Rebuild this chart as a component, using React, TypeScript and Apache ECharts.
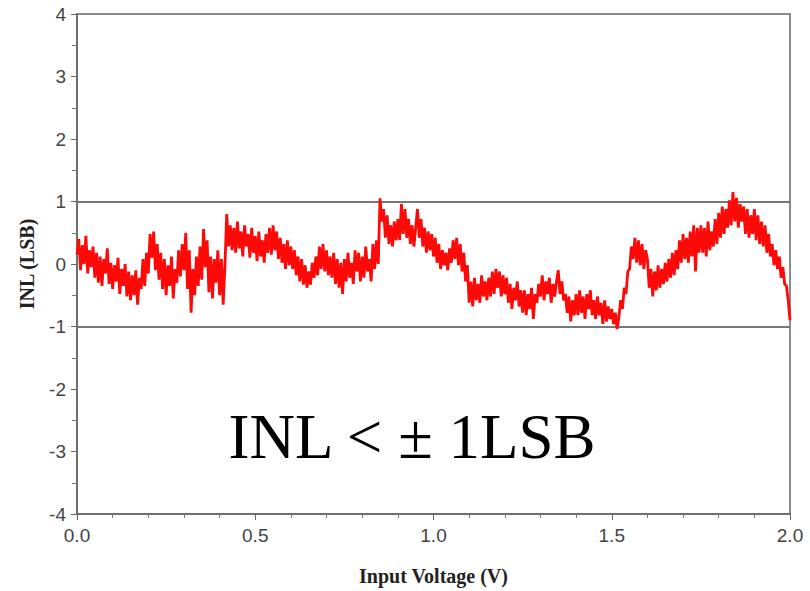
import React, { useEffect, useRef } from "react";
import * as echarts from "echarts";

// Sample spacing of the measured INL trace (V per code sample)
const SAMPLE_STEP = 0.005;

// INL (LSB), 10 samples per 0.05 V
const inlSeg1 = [
  0.15, 0.4, -0.1, 0.3, 0.0, 0.45, -0.15, 0.22, -0.05, 0.28,
  -0.22, 0.18, -0.3, 0.12, -0.35, 0.08, -0.15, 0.25, -0.32, 0.02,
  -0.4, -0.02, -0.28, 0.1, -0.48, -0.08, -0.35, 0.0, -0.52, -0.12,
  -0.58, -0.18, -0.5, -0.1, -0.65, -0.22, -0.4, 0.08, -0.35, 0.18,
  -0.15, 0.48, 0.1, 0.52, -0.1, 0.32, -0.25, 0.18, -0.4, 0.08,
  -0.5, -0.02, -0.35, 0.12, -0.55, -0.08, -0.3, 0.22, -0.2, 0.32,
  -0.1, 0.5, -0.4, 0.22, -0.78, -0.08, -0.5, 0.12, -0.35, 0.28,
  -0.25, 0.56, -0.05, 0.38, -0.45, 0.12, -0.55, 0.08, -0.3, 0.22,
  -0.5, 0.08, -0.65, -0.02,
];
const inlSeg2 = [
  0.8, 0.28, 0.62, 0.22, 0.58, 0.18,
  0.68, 0.25, 0.52, 0.12, 0.62, 0.28, 0.48, 0.1, 0.58, 0.18,
  0.45, 0.05, 0.52, 0.12, 0.38, 0.02, 0.48, 0.18, 0.58, 0.15,
  0.62, 0.22, 0.52, 0.08, 0.42, 0.02, 0.32, -0.08, 0.38, -0.02,
  0.28, -0.08, 0.22, -0.18, 0.12, -0.28, 0.08, -0.33, -0.02, -0.38,
  -0.12, -0.33, 0.02, -0.22, 0.12, -0.18, 0.28, -0.08, 0.32, -0.12,
  0.22, -0.18, 0.12, -0.22, 0.18, -0.32, 0.08, -0.38, 0.02, -0.48,
  0.08, -0.28, 0.18, -0.22, 0.02, -0.32, 0.22, -0.12, 0.18, -0.28,
  0.12, -0.22, 0.28, -0.12, 0.08, -0.28, 0.32, -0.08, 0.38, 0.0,
];
const inlSeg3 = [
  1.05, 0.68, 0.88, 0.42, 0.78, 0.32, 0.62, 0.28, 0.68, 0.38,
  0.72, 0.38, 0.96, 0.48, 0.88, 0.42, 0.72, 0.32, 0.62, 0.28,
  0.58, 0.88, 0.42, 0.72, 0.28, 0.58, 0.18, 0.52, 0.22, 0.48,
  0.12, 0.42, 0.02, 0.32, -0.08, 0.22, -0.02, 0.18, -0.1, 0.25,
  0.02, 0.38, 0.08, 0.42, -0.02, 0.32, -0.12, 0.18, -0.28, -0.02,
  -0.62, -0.28, -0.68, -0.22, -0.58, -0.32, -0.62, -0.18, -0.52, -0.28,
  -0.58, -0.22, -0.52, -0.12, -0.48, -0.08, -0.38, -0.12, -0.52, -0.18,
  -0.48, -0.22, -0.62, -0.32, -0.72, -0.38, -0.58, -0.28, -0.68, -0.42,
  -0.78, -0.42, -0.82, -0.48, -0.72, -0.38, -0.88, -0.48, -0.62, -0.32,
  -0.52, -0.18, -0.58, -0.28, -0.48, -0.22, -0.62, -0.32, -0.52, -0.28,
  -0.1, -0.48, -0.28, -0.58, -0.48, -0.78, -0.52, -0.92, -0.58, -0.82,
  -0.48, -0.82, -0.42, -0.78, -0.52, -0.88, -0.48, -0.72, -0.42, -0.82,
  -0.58, -0.88, -0.52, -0.82, -0.62, -0.96, -0.58, -0.92, -0.68, -0.88,
  -0.72, -0.96, -0.78, -1.04, -0.85,
];
const inlSeg4 = [
  -0.58, -0.72, -0.38, -0.48, -0.12,
  -0.08, 0.28, 0.08, 0.42, 0.02, 0.38, -0.02, 0.32, -0.08, 0.22,
  0.08, -0.38, -0.08, -0.52, -0.12, -0.42, -0.02, -0.38, -0.08, -0.32,
  0.02, -0.28, 0.08, -0.22, 0.18, -0.18, 0.22, -0.08, 0.38, 0.02,
  0.48, 0.08, 0.42, 0.02, 0.52, 0.12, 0.62, -0.12, 0.58, 0.18,
  0.62, 0.18, 0.58, 0.12, 0.68, 0.22, 0.52, 0.28, 0.72, 0.32,
  0.82, 0.42, 0.92, 0.48, 0.88, 0.58, 1.02, 0.62, 1.15, 0.68,
  1.06, 0.58, 0.96, 0.68, 0.92, 0.48, 0.88, 0.42, 0.78, 0.48,
  0.88, 0.38, 0.78, 0.32, 0.68, 0.28, 0.62, 0.18, 0.48, 0.12,
  0.32, -0.02, 0.22, -0.08, 0.12, -0.22, -0.05, -0.32, -0.35, -0.58,
  -0.9,
];

const limitLines = [1, -1];
const xTicks = [0, 0.5, 1.0, 1.5, 2.0];
const yTicks = [-4, -3, -2, -1, 0, 1, 2, 3, 4];

const SERIF = "'Liberation Serif', 'Times New Roman', serif";
const SANS = "'Liberation Sans', Arial, sans-serif";

export default function App() {
  const ref = useRef<HTMLDivElement>(null);

  useEffect(() => {
    if (!ref.current) return;
    const chart = echarts.init(ref.current, undefined, { renderer: "svg" });
    const inl = [...inlSeg1, ...inlSeg2, ...inlSeg3, ...inlSeg4];
    const data = inl.map((v, i) => [i * SAMPLE_STEP, v]);

    chart.setOption({
      animation: false,
      backgroundColor: "#ffffff",
      grid: {
        left: 77,
        right: 20,
        top: 14,
        bottom: 74,
        show: true,
        borderColor: "#666",
        borderWidth: 1.5,
      },
      xAxis: {
        type: "value",
        min: xTicks[0],
        max: xTicks[xTicks.length - 1],
        interval: 0.5,
        name: "Input Voltage (V)",
        nameLocation: "middle",
        nameGap: 52,
        nameTextStyle: {
          fontFamily: SERIF,
          fontWeight: "bold",
          fontSize: 20,
          color: "#222",
        },
        axisLine: { show: true, onZero: false, lineStyle: { color: "#666", width: 1.5 } },
        axisTick: { show: true, inside: false, length: 6, lineStyle: { color: "#666" } },
        minorTick: { show: true, splitNumber: 5, length: 4, lineStyle: { color: "#777" } },
        splitLine: { show: false },
        axisLabel: {
          margin: 12,
          fontFamily: SANS,
          fontSize: 19,
          color: "#444",
          formatter: (v: number) => v.toFixed(1),
        },
      },
      yAxis: {
        type: "value",
        min: yTicks[0],
        max: yTicks[yTicks.length - 1],
        interval: 1,
        name: "INL (LSB)",
        nameLocation: "middle",
        nameGap: 40,
        nameTextStyle: {
          fontFamily: SERIF,
          fontWeight: "bold",
          fontSize: 20,
          color: "#222",
        },
        axisLine: { show: true, onZero: false, lineStyle: { color: "#666", width: 1.5 } },
        axisTick: { show: true, inside: false, length: 6, lineStyle: { color: "#666" } },
        minorTick: { show: true, splitNumber: 2, length: 5, lineStyle: { color: "#777" } },
        splitLine: { show: false },
        axisLabel: {
          margin: 11,
          fontFamily: SANS,
          fontSize: 19,
          color: "#444",
          formatter: (v: number) => String(v),
        },
      },
      series: [
        {
          type: "line",
          data,
          showSymbol: false,
          symbol: "none",
          lineStyle: { color: "#ff0808", width: 2.8 },
          z: 3,
          markLine: {
            silent: true,
            symbol: "none",
            label: { show: false },
            lineStyle: { color: "#777", width: 2, type: "solid" },
            data: limitLines.map((y) => ({ yAxis: y })),
            z: 2,
          },
        },
      ],
      graphic: [
        {
          type: "text",
          x: 412,
          y: 437,
          style: {
            text: "INL < ± 1LSB",
            font: `63px ${SERIF}`,
            fill: "#000",
            align: "center",
            verticalAlign: "middle",
          },
        },
      ],
    });

    return () => chart.dispose();
  }, []);

  return (
    <div
      ref={ref}
      style={{ position: "fixed", left: 0, top: 0, width: 810, height: 591 }}
    />
  );
}
